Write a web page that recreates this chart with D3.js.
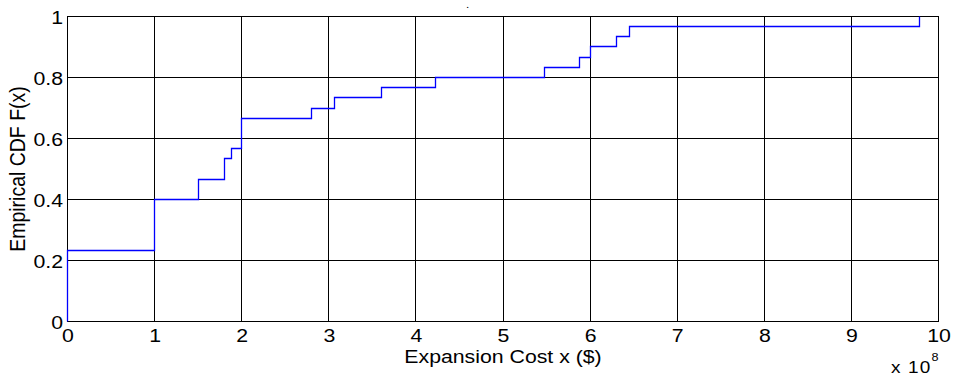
<!DOCTYPE html>
<html>
<head>
<meta charset="utf-8">
<script src="https://cdn.jsdelivr.net/npm/d3@7/dist/d3.min.js"></script>
<style>
  html, body { margin: 0; padding: 0; background: #fff; }
  svg { display: block; }
  text { font-family: Arial, "Liberation Sans", Helvetica, sans-serif; fill: #000; }
</style>
</head>
<body>
<svg id="chart" width="954" height="380"></svg>
<script>
// Expansion cost sample points (units of 1e8 $) where the empirical CDF jumps
const stepX = [0, 1, 1.5, 1.8, 1.88, 2, 2.8, 3.06, 3.6, 4.23, 5.48, 5.88, 6, 6.3, 6.45, 9.78];
// CDF value reached after each jump
const cdfY = [0.2333, 0.4, 0.4667, 0.5333, 0.5667, 0.6667, 0.7, 0.7333, 0.7667, 0.8,
              0.8333, 0.8667, 0.9, 0.9333, 0.9667, 1.0];
const xTicks = [0, 1, 2, 3, 4, 5, 6, 7, 8, 9, 10];
const yTicks = [0, 0.2, 0.4, 0.6, 0.8, 1];
const yTickLabels = ["0", "0.2", "0.4", "0.6", "0.8", "1"];

const svg = d3.select("#chart");
const FS = 18.5;          // label font size
const WIDEN = "scale(1.15,1)"; // the figure's lettering is drawn slightly wide

const x = d3.scaleLinear().domain([0, 10]).range([67, 938]);
const y = d3.scaleLinear().domain([0, 1]).range([321, 16]);
// snap to pixel centres so grid, box and stairs share the same pixels
const px = d => Math.round(x(d)) + 0.5;
const py = d => Math.round(y(d)) + 0.5;
const L = px(0), R = px(10), T = py(1), B = py(0);

// grid
const grid = svg.append("g").attr("stroke", "#000").attr("stroke-width", 1);
grid.selectAll("line.vx").data(xTicks.slice(1, -1)).join("line")
  .attr("x1", px).attr("x2", px)
  .attr("y1", T).attr("y2", B);
grid.selectAll("line.hy").data(yTicks.slice(1, -1)).join("line")
  .attr("x1", L).attr("x2", R)
  .attr("y1", py).attr("y2", py);

// axes box
svg.append("rect")
  .attr("x", L).attr("y", T)
  .attr("width", R - L).attr("height", B - T)
  .attr("fill", "none").attr("stroke", "#000").attr("stroke-width", 1);

// ECDF stairs, drawn over the grid and box
const pts = [[stepX[0], 0]].concat(stepX.map((v, i) => [v, cdfY[i]]));
const line = d3.line().x(d => px(d[0])).y(d => py(d[1])).curve(d3.curveStepAfter);
svg.append("path").datum(pts)
  .attr("d", line)
  .attr("fill", "none")
  .attr("stroke", "#0000ff")
  .attr("stroke-width", 1.3)
  .attr("stroke-linejoin", "miter");

// x tick labels
const xAxis = d3.axisBottom(x).tickValues(xTicks).tickSize(0).tickPadding(0)
  .tickFormat(d3.format("d"));
const gx = svg.append("g").attr("transform", `translate(0.5,${B})`).call(xAxis);
gx.select(".domain").remove();
gx.selectAll("text")
  .attr("dy", null).attr("y", 20.5)
  .attr("transform", WIDEN)
  .style("font-size", FS + "px").style("font-family", "Arial, 'Liberation Sans', sans-serif")
  .attr("fill", "#000");

// y tick labels
const yAxis = d3.axisLeft(y).tickValues(yTicks).tickSize(0).tickPadding(0)
  .tickFormat((d, i) => yTickLabels[i]);
const gy = svg.append("g").attr("transform", `translate(${L - 4.5},0.5)`).call(yAxis);
gy.select(".domain").remove();
gy.selectAll("text")
  .attr("dy", "0.36em")
  .attr("transform", WIDEN)
  .style("font-size", FS + "px").style("font-family", "Arial, 'Liberation Sans', sans-serif")
  .attr("fill", "#000");

// axis titles
svg.append("text")
  .attr("transform", `translate(${(L + R) / 2},363) ${WIDEN}`)
  .attr("text-anchor", "middle")
  .style("font-size", FS + "px")
  .text("Expansion Cost x ($)");

svg.append("text")
  .attr("transform", `translate(25,${(T + B) / 2}) ${WIDEN} rotate(-90)`)
  .attr("text-anchor", "middle")
  .style("font-size", "19.5px")
  .text("Empirical CDF F(x)");

// exponent label
const ex = svg.append("text")
  .attr("transform", `translate(${R},373) ${WIDEN}`)
  .attr("text-anchor", "end")
  .style("font-size", "16.5px");
ex.append("tspan").style("letter-spacing", "1px").text("x 10");
ex.append("tspan").attr("dy", -12).style("font-size", "11px").text("8");

// title
svg.append("text")
  .attr("x", x(4.6)).attr("y", 7.5)
  .attr("text-anchor", "middle")
  .style("font-size", "8px")
  .style("font-weight", "bold")
  .text(".");
</script>
</body>
</html>
